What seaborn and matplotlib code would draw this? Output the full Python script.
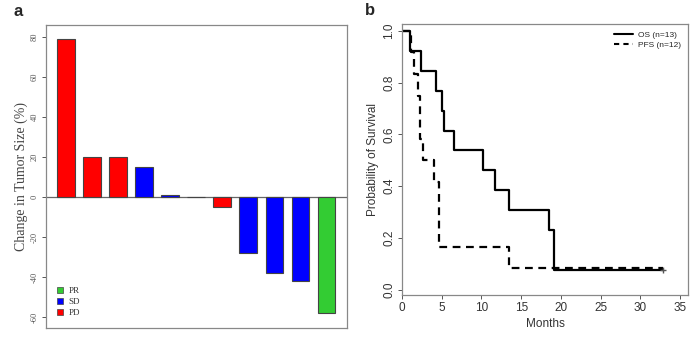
import numpy as np
import pandas as pd
import matplotlib
matplotlib.use("Agg")
import matplotlib.pyplot as plt
import seaborn as sns
from matplotlib.patches import Patch
from matplotlib.lines import Line2D

# ---- Panel a data (waterfall) ----
patients = [f"P{i}" for i in range(1, 12)]
change = [79, 20, 20, 15, 1, 0, -5, -28, -38, -42, -58]
response = ["PD", "PD", "PD", "SD", "SD", "SD", "PD", "SD", "SD", "SD", "PR"]
resp_colors = {"PR": "#33CC33", "SD": "#0000FF", "PD": "#FF0000"}
a_yticks = [80, 60, 40, 20, 0, -20, -40, -60]

# ---- Panel b data (Kaplan-Meier steps) ----
os_time = [0, 1.0, 2.45, 4.25, 5.05, 5.3, 6.5, 10.2, 11.7, 13.4, 18.5, 19.1, 32.8]
os_surv = [1.0, 0.923, 0.846, 0.769, 0.692, 0.615, 0.538, 0.462, 0.385, 0.308, 0.231, 0.077, 0.077]
pfs_time = [0, 1.1, 1.5, 2.0, 2.3, 2.7, 4.0, 4.6, 13.4, 32.8]
pfs_surv = [1.0, 0.917, 0.833, 0.75, 0.583, 0.5, 0.417, 0.167, 0.083, 0.083]
b_xticks = [0, 5, 10, 15, 20, 25, 30, 35]
b_yticks = [0.0, 0.2, 0.4, 0.6, 0.8, 1.0]

sns.set_theme(style="white")
plt.rcParams["font.family"] = ["Liberation Sans", "DejaVu Sans"]

fig = plt.figure(figsize=(6.91, 3.37), dpi=100)
axa = fig.add_axes([0.0666, 0.0267, 0.436, 0.899])
axb = fig.add_axes([0.5818, 0.1246, 0.414, 0.804])

# ---- Panel a ----
dfa = pd.DataFrame({"patient": patients, "change": change, "response": response})
sns.barplot(data=dfa, x="patient", y="change", hue="response", palette=resp_colors,
            dodge=False, width=0.68, edgecolor="#444444", linewidth=0.8,
            saturation=1, legend=False, ax=axa)
axa.axhline(0, color="#666666", lw=0.9, zorder=0)
axa.set_xlim(-0.77, 10.8)
axa.set_ylim(-65.5, 86)
axa.set_xticks([])
axa.set_xlabel("")
axa.set_yticks(a_yticks)
axa.set_yticklabels([str(v) for v in a_yticks], rotation=90, va="center",
                    family=["Liberation Serif"], fontsize=6, color="#555555")
axa.tick_params(axis="y", direction="out", length=3, width=0.7, color="#555555",
                left=True, pad=2)
axa.set_ylabel("Change in Tumor Size (%)", family=["Liberation Serif"],
               fontsize=10, color="#444444", labelpad=2)
for s in axa.spines.values():
    s.set_color("#888888")
    s.set_linewidth(0.9)
handles = [Patch(facecolor=resp_colors[k], edgecolor="#444444", linewidth=0.5, label=k)
           for k in ["PR", "SD", "PD"]]
leg = axa.legend(handles=handles, loc="lower left", frameon=False,
                 prop={"family": "Liberation Serif", "size": 6.5},
                 handlelength=0.7, handleheight=0.7, handletextpad=0.6,
                 labelspacing=0.3, borderaxespad=0.6, borderpad=0.6)
for t in leg.get_texts():
    t.set_color("#333333")

# ---- Panel b ----
dfo = pd.DataFrame({"time": os_time, "surv": os_surv})
dfp = pd.DataFrame({"time": pfs_time, "surv": pfs_surv})
sns.lineplot(data=dfo, x="time", y="surv", drawstyle="steps-post", color="black",
             lw=1.6, ax=axb)
sns.lineplot(data=dfp, x="time", y="surv", drawstyle="steps-post", color="black",
             lw=1.6, ax=axb, linestyle=(0, (3.5, 2.5)))
axb.plot([os_time[-1]], [os_surv[-1]], marker="+", color="#555555", ms=5, mew=1)
axb.set_xlim(0, 36)
axb.set_ylim(-0.02, 1.026)
axb.set_xticks(b_xticks)
axb.set_xticklabels([str(v) for v in b_xticks], fontsize=8.5, color="#333333")
axb.set_yticks(b_yticks)
axb.set_yticklabels([f"{v:.1f}" for v in b_yticks], rotation=90, va="center",
                    fontsize=8.5, color="#333333")
axb.tick_params(direction="out", length=3, width=0.7, color="#555555",
                left=True, bottom=True, pad=2)
axb.set_xlabel("Months", fontsize=8.5, color="#333333", labelpad=3)
axb.set_ylabel("Probability of Survival", fontsize=8.5, color="#333333", labelpad=3)
for s in axb.spines.values():
    s.set_color("#888888")
    s.set_linewidth(0.9)
lh = [Line2D([0], [0], color="black", lw=1.5),
      Line2D([0], [0], color="black", lw=1.5, linestyle=(0, (2.5, 2)))]
axb.legend(lh, ["OS (n=13)", "PFS (n=12)"], loc="upper right", frameon=False,
           fontsize=6, handlelength=2.2, handletextpad=0.6, labelspacing=0.2,
           borderaxespad=0.5)

# panel labels
fig.text(0.019, 0.965, "a", fontsize=12, fontweight="bold", va="center")
fig.text(0.528, 0.97, "b", fontsize=12, fontweight="bold", va="center")

fig.savefig("out.png", dpi=100)
